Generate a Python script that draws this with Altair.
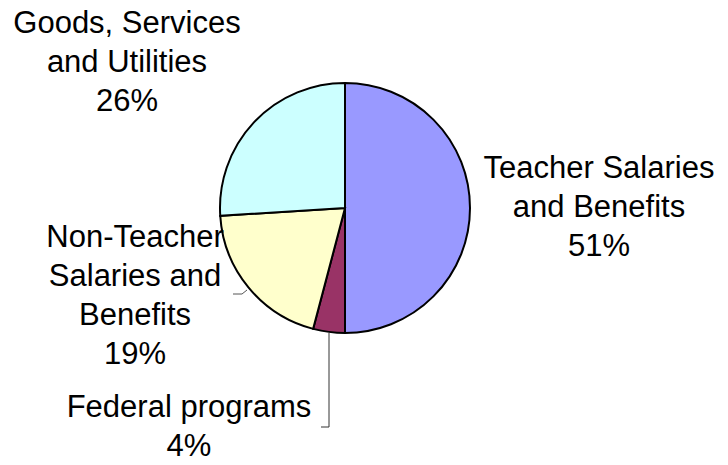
import altair as alt
import pandas as pd

# Data
categories = ["Teacher Salaries and Benefits", "Federal programs",
              "Non-Teacher Salaries and Benefits", "Goods, Services and Utilities"]
values = [50.0, 4.1, 19.9, 26.0]
pct_labels = ["51%", "4%", "19%", "26%"]
label_lines = [
    "Teacher Salaries\nand Benefits\n51%",
    "Federal programs\n4%",
    "Non-Teacher\nSalaries and\nBenefits\n19%",
    "Goods, Services\nand Utilities\n26%",
]
colors = ["#9999FF", "#993366", "#FFFFCC", "#CCFFFF"]

# Layout (label anchor positions in pixels)
label_x = [599, 189, 135, 127]
label_y = [178, 417, 247, 33]

W, H = 728, 465
CX, CY, R = 345, 208, 125

pie_df = pd.DataFrame({"cat": categories, "val": values,
                       "order": list(range(len(categories)))})
lab_df = pd.DataFrame({"txt": label_lines, "lx": label_x, "ly": label_y})

pie = alt.Chart(pie_df).mark_arc(
    outerRadius=R, stroke="black", strokeWidth=2
).encode(
    theta=alt.Theta("val:Q", stack=True),
    order=alt.Order("order:Q"),
    color=alt.Color("cat:N", scale=alt.Scale(domain=categories, range=colors), legend=None),
    x=alt.value(CX),
    y=alt.value(CY),
)

labels = alt.Chart(lab_df).mark_text(
    font="Liberation Sans", fontSize=31, align="center", baseline="alphabetic",
    lineBreak="\n", lineHeight=39, color="black"
).encode(
    x=alt.X("lx:Q", scale=None),
    y=alt.Y("ly:Q", scale=None),
    text="txt:N",
)

# Leader lines
lead1 = pd.DataFrame({"px": [329, 329, 321], "py": [333, 427, 427], "i": [0, 1, 2]})
lead2 = pd.DataFrame({"px": [233, 242, 247], "py": [294, 294, 290], "i": [0, 1, 2]})

leader1 = alt.Chart(lead1).mark_line(color="#333333", strokeWidth=1).encode(
    x=alt.X("px:Q", scale=None), y=alt.Y("py:Q", scale=None), order="i:Q")
leader2 = alt.Chart(lead2).mark_line(color="#555555", strokeWidth=1).encode(
    x=alt.X("px:Q", scale=None), y=alt.Y("py:Q", scale=None), order="i:Q")

chart = alt.layer(pie, leader1, leader2, labels).properties(
    width=W, height=H, autosize=alt.AutoSizeParams(type="none"), padding=0,
    background="white"
).configure_view(stroke=None)

chart.save("out.html", embed_options={"renderer": "svg", "actions": False})
